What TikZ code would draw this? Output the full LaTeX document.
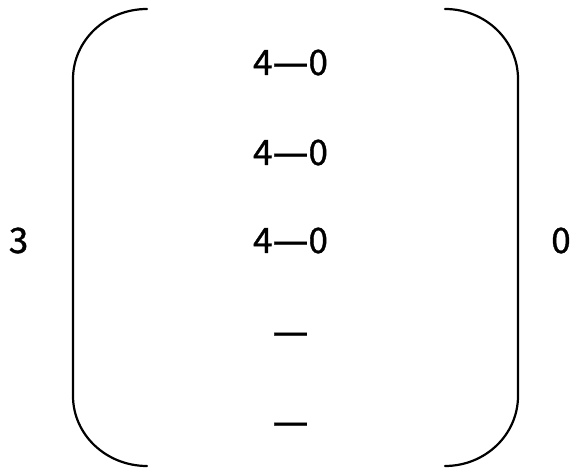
\documentclass[tikz,border=0pt]{standalone}
\usepackage{fontspec}
\setmainfont{Noto Sans CJK JP}[BoldFont=Noto Sans CJK JP,BoldFeatures={FakeBold=1}]
\newfontfamily\dashfont{DejaVu Sans}[BoldFont=DejaVu Sans,BoldFeatures={FakeBold=1.1}]
\newcommand\fwdash{{\dashfont\bfseries\fontsize{36}{38}\selectfont—}}
\begin{document}
\begin{tikzpicture}[x=1pt,y=1pt,
  lbl/.style={inner sep=0pt,anchor=base,font=\fontsize{35}{38}\selectfont\bfseries},
  brk/.style={line width=2.2pt,line cap=round}]
\useasboundingbox (0,0) rectangle (573,468);
% labels (y = 468 - pixel y), base anchors
\node[lbl] (r1) at (290.5,393) {4\fwdash0};
\node[lbl] (r2) at (290.5,303) {4\fwdash0};
\node[lbl] (r3) at (290.5,215) {4\fwdash0};
\node[lbl] (r4) at (290.5,124) {\fwdash};
\node[lbl] (r5) at (290.5,34) {\fwdash};
\node[lbl] (left) at (18.5,215) {3};
\node[lbl] (right) at (561,215) {0};
% brackets
\draw[brk] (147,459) arc[start angle=90,end angle=180,x radius=74,y radius=70] -- (73,72)
  arc[start angle=180,end angle=270,x radius=74,y radius=70];
\draw[brk] (445,459) arc[start angle=90,end angle=0,x radius=73,y radius=70] -- (518,72)
  arc[start angle=0,end angle=-90,x radius=73,y radius=70];
\end{tikzpicture}
\end{document}
